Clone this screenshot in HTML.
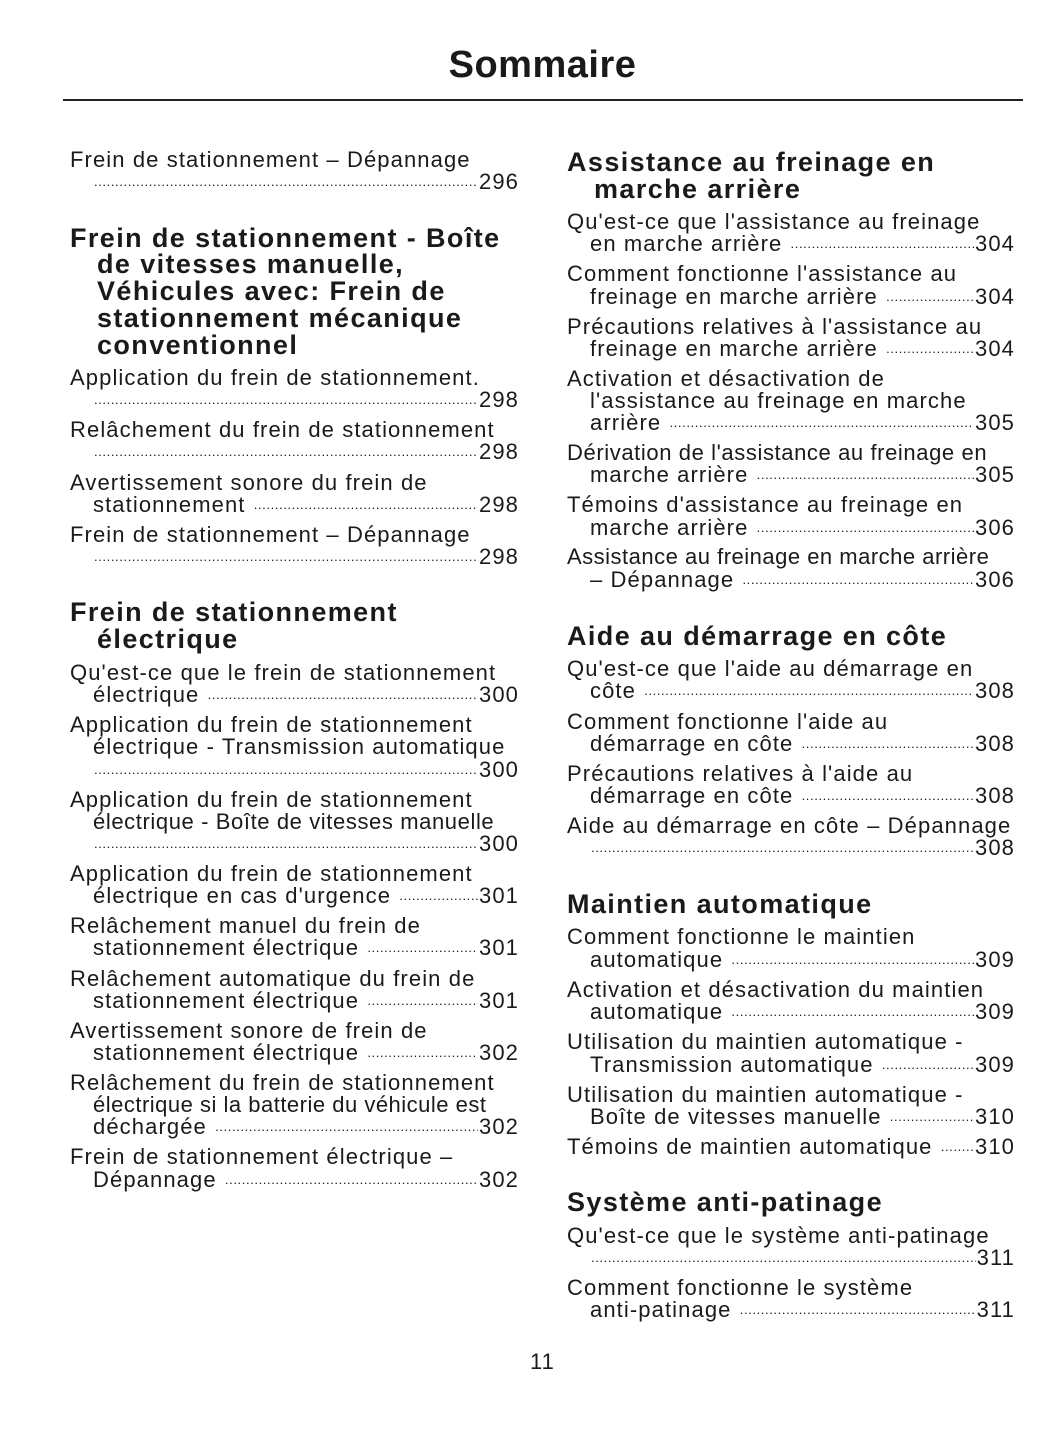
<!DOCTYPE html>
<html><head><meta charset="utf-8">
<style>
body{margin:0;width:1055px;height:1448px;background:#fff;position:relative;overflow:hidden;font-family:"Liberation Sans",sans-serif;color:#1a1a1a}
.t{position:absolute;font-size:22px;letter-spacing:1.1px;line-height:26px;height:26px;white-space:nowrap}
.h{position:absolute;font-size:27px;font-weight:bold;line-height:28px;height:28px;white-space:nowrap;letter-spacing:1.4px}
.a{left:70px}.ai{left:93px}.ah{left:97px}
.b{left:567px}.bi{left:590px}.bh{left:594px}
.d{display:flex}
.d .f{flex:1;overflow:hidden;white-space:nowrap;margin:0 1px;font-size:13px;letter-spacing:0.6px}
.d .f::before{content:"........................................................................................................................................................................................................................................."}
.da{left:93px;width:426px}.db{left:590px;width:425px}
</style></head><body>
<div style="position:absolute;left:0;width:1085px;top:44px;text-align:center;font-size:38px;font-weight:bold;letter-spacing:0.5px">Sommaire</div>
<div style="position:absolute;left:63px;top:99px;width:960px;height:1.5px;background:#222"></div>

<!-- LEFT -->
<div class="t a" style="top:147px">Frein de stationnement – Dépannage</div>
<div class="t d da" style="top:169px"><span class="f"></span><span>296</span></div>
<div class="h a" style="top:224px">Frein de stationnement - Boîte</div>
<div class="h ah" style="top:250px">de vitesses manuelle,</div>
<div class="h ah" style="top:277px">Véhicules avec: Frein de</div>
<div class="h ah" style="top:304px">stationnement mécanique</div>
<div class="h ah" style="top:331px">conventionnel</div>
<div class="t a" style="top:365px">Application du frein de stationnement.</div>
<div class="t d da" style="top:387px"><span class="f"></span><span>298</span></div>
<div class="t a" style="top:417px">Relâchement du frein de stationnement</div>
<div class="t d da" style="top:439px"><span class="f"></span><span>298</span></div>
<div class="t a" style="top:470px">Avertissement sonore du frein de</div>
<div class="t d da" style="top:492px"><span>stationnement&nbsp;</span><span class="f"></span><span>298</span></div>
<div class="t a" style="top:522px">Frein de stationnement – Dépannage</div>
<div class="t d da" style="top:544px"><span class="f"></span><span>298</span></div>
<div class="h a" style="top:598px">Frein de stationnement</div>
<div class="h ah" style="top:625px">électrique</div>
<div class="t a" style="top:660px">Qu'est-ce que le frein de stationnement</div>
<div class="t d da" style="top:682px"><span>électrique&nbsp;</span><span class="f"></span><span>300</span></div>
<div class="t a" style="top:712px">Application du frein de stationnement</div>
<div class="t ai" style="top:734px">électrique - Transmission automatique</div>
<div class="t d da" style="top:757px"><span class="f"></span><span>300</span></div>
<div class="t a" style="top:787px">Application du frein de stationnement</div>
<div class="t ai" style="top:809px;letter-spacing:0.6px">électrique - Boîte de vitesses manuelle</div>
<div class="t d da" style="top:831px"><span class="f"></span><span>300</span></div>
<div class="t a" style="top:861px">Application du frein de stationnement</div>
<div class="t d da" style="top:883px"><span>électrique en cas d'urgence&nbsp;</span><span class="f"></span><span>301</span></div>
<div class="t a" style="top:913px">Relâchement manuel du frein de</div>
<div class="t d da" style="top:935px"><span>stationnement électrique&nbsp;</span><span class="f"></span><span>301</span></div>
<div class="t a" style="top:966px">Relâchement automatique du frein de</div>
<div class="t d da" style="top:988px"><span>stationnement électrique&nbsp;</span><span class="f"></span><span>301</span></div>
<div class="t a" style="top:1018px">Avertissement sonore de frein de</div>
<div class="t d da" style="top:1040px"><span>stationnement électrique&nbsp;</span><span class="f"></span><span>302</span></div>
<div class="t a" style="top:1070px">Relâchement du frein de stationnement</div>
<div class="t ai" style="top:1092px;letter-spacing:0.5px">électrique si la batterie du véhicule est</div>
<div class="t d da" style="top:1114px"><span>déchargée&nbsp;</span><span class="f"></span><span>302</span></div>
<div class="t a" style="top:1144px">Frein de stationnement électrique –</div>
<div class="t d da" style="top:1167px"><span>Dépannage&nbsp;</span><span class="f"></span><span>302</span></div>

<!-- RIGHT -->
<div class="h b" style="top:148px">Assistance au freinage en</div>
<div class="h bh" style="top:175px">marche arrière</div>
<div class="t b" style="top:209px">Qu'est-ce que l'assistance au freinage</div>
<div class="t d db" style="top:231px"><span>en marche arrière&nbsp;</span><span class="f"></span><span>304</span></div>
<div class="t b" style="top:261px">Comment fonctionne l'assistance au</div>
<div class="t d db" style="top:284px"><span>freinage en marche arrière&nbsp;</span><span class="f"></span><span>304</span></div>
<div class="t b" style="top:314px">Précautions relatives à l'assistance au</div>
<div class="t d db" style="top:336px"><span>freinage en marche arrière&nbsp;</span><span class="f"></span><span>304</span></div>
<div class="t b" style="top:366px">Activation et désactivation de</div>
<div class="t bi" style="top:388px">l'assistance au freinage en marche</div>
<div class="t d db" style="top:410px"><span>arrière&nbsp;</span><span class="f"></span><span>305</span></div>
<div class="t b" style="top:440px;letter-spacing:0.6px">Dérivation de l'assistance au freinage en</div>
<div class="t d db" style="top:462px"><span>marche arrière&nbsp;</span><span class="f"></span><span>305</span></div>
<div class="t b" style="top:492px">Témoins d'assistance au freinage en</div>
<div class="t d db" style="top:515px"><span>marche arrière&nbsp;</span><span class="f"></span><span>306</span></div>
<div class="t b" style="top:544px;letter-spacing:0.5px">Assistance au freinage en marche arrière</div>
<div class="t d db" style="top:567px"><span>– Dépannage&nbsp;</span><span class="f"></span><span>306</span></div>
<div class="h b" style="top:622px">Aide au démarrage en côte</div>
<div class="t b" style="top:656px">Qu'est-ce que l'aide au démarrage en</div>
<div class="t d db" style="top:678px"><span>côte&nbsp;</span><span class="f"></span><span>308</span></div>
<div class="t b" style="top:709px">Comment fonctionne l'aide au</div>
<div class="t d db" style="top:731px"><span>démarrage en côte&nbsp;</span><span class="f"></span><span>308</span></div>
<div class="t b" style="top:761px">Précautions relatives à l'aide au</div>
<div class="t d db" style="top:783px"><span>démarrage en côte&nbsp;</span><span class="f"></span><span>308</span></div>
<div class="t b" style="top:813px">Aide au démarrage en côte – Dépannage</div>
<div class="t d db" style="top:835px"><span class="f"></span><span>308</span></div>
<div class="h b" style="top:890px">Maintien automatique</div>
<div class="t b" style="top:924px">Comment fonctionne le maintien</div>
<div class="t d db" style="top:947px"><span>automatique&nbsp;</span><span class="f"></span><span>309</span></div>
<div class="t b" style="top:977px">Activation et désactivation du maintien</div>
<div class="t d db" style="top:999px"><span>automatique&nbsp;</span><span class="f"></span><span>309</span></div>
<div class="t b" style="top:1029px">Utilisation du maintien automatique -</div>
<div class="t d db" style="top:1052px"><span>Transmission automatique&nbsp;</span><span class="f"></span><span>309</span></div>
<div class="t b" style="top:1082px">Utilisation du maintien automatique -</div>
<div class="t d db" style="top:1104px"><span>Boîte de vitesses manuelle&nbsp;</span><span class="f"></span><span>310</span></div>
<div class="t d b" style="top:1134px;width:448px"><span>Témoins de maintien automatique&nbsp;</span><span class="f"></span><span>310</span></div>
<div class="h b" style="top:1188px">Système anti-patinage</div>
<div class="t b" style="top:1223px">Qu'est-ce que le système anti-patinage</div>
<div class="t d db" style="top:1245px"><span class="f"></span><span>311</span></div>
<div class="t b" style="top:1275px">Comment fonctionne le système</div>
<div class="t d db" style="top:1297px"><span>anti-patinage&nbsp;</span><span class="f"></span><span>311</span></div>

<div class="t" style="left:0;width:1085px;text-align:center;top:1349px">11</div>
</body></html>
